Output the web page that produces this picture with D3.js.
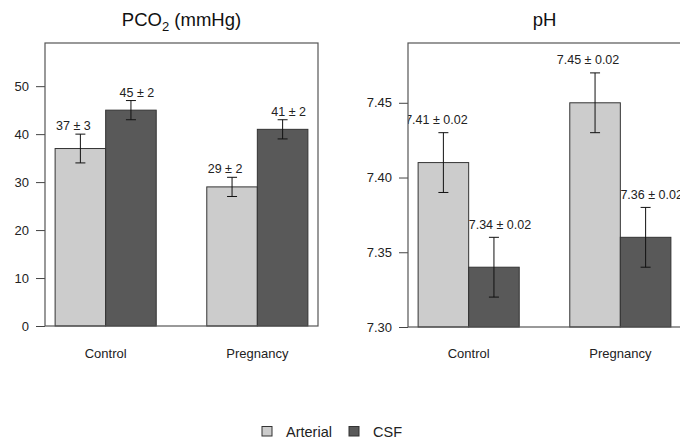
<!DOCTYPE html>
<html>
<head>
<meta charset="utf-8">
<script src="https://cdn.jsdelivr.net/npm/d3@7"></script>
<style>
  body { margin: 0; background: #fff; }
  svg { font-family: "Liberation Sans", Arial, sans-serif; }
</style>
</head>
<body>
<div id="chart"></div>
<script>
// data
const groups = ["Control", "Pregnancy"]
const series = ["Arterial", "CSF"]
const colors = ["#cccccc", "#595959"]

const pco2Mean = [[37, 45], [29, 41]]
const pco2Err = [[3, 2], [2, 2]]
const pco2Ticks = [0, 10, 20, 30, 40, 50]

const phMean = [[7.41, 7.34], [7.45, 7.36]]
const phErr = [[0.02, 0.02], [0.02, 0.02]]
const phTicks = [7.30, 7.35, 7.40, 7.45]

const svg = d3.select('#chart')
  .append('svg')
  .attr('width', 680)
  .attr('height', 441)

let panelId = 0

function panel(opt) {
  const g = svg.append('g')
  const clipId = 'clip' + (panelId++)

  svg.append('clipPath')
    .attr('id', clipId)
    .append('rect')
    .attr('x', opt.left)
    .attr('y', opt.top)
    .attr('width', opt.right - opt.left)
    .attr('height', opt.bottom - opt.top)

  // x in R barplot units: bars width 1, one unit of space before each group
  const x = d3.scaleLinear().domain([0.8, 6.2]).range([opt.left, opt.right])
  const y = d3.scaleLinear().domain(opt.yDomain).range([opt.bottom, opt.top])

  const bars = []
  groups.forEach((grp, i) => {
    series.forEach((s, j) => {
      bars.push({
        x0: 1 + i * 3 + j,
        v: opt.mean[i][j],
        e: opt.err[i][j],
        j: j,
        label: opt.fmt(opt.mean[i][j]) + ' \u00b1 ' + opt.fmt(opt.err[i][j])
      })
    })
  })

  // bars
  g.selectAll('rect.bar')
    .data(bars)
    .join('rect')
    .attr('class', 'bar')
    .attr('x', d => x(d.x0))
    .attr('width', d => x(d.x0 + 1) - x(d.x0))
    .attr('y', d => y(d.v))
    .attr('height', d => y(opt.yDomain[0]) - y(d.v))
    .attr('fill', d => colors[d.j])
    .attr('stroke', '#333')
    .attr('stroke-width', 1)

  // error bars
  const eb = g.selectAll('g.err').data(bars).join('g').attr('class', 'err')
    .attr('stroke', '#111').attr('stroke-width', 1)
  eb.append('line')
    .attr('x1', d => x(d.x0 + 0.5)).attr('x2', d => x(d.x0 + 0.5))
    .attr('y1', d => y(d.v - d.e)).attr('y2', d => y(d.v + d.e))
  eb.append('line')
    .attr('x1', d => x(d.x0 + 0.5) - 5).attr('x2', d => x(d.x0 + 0.5) + 5)
    .attr('y1', d => y(d.v + d.e)).attr('y2', d => y(d.v + d.e))
  eb.append('line')
    .attr('x1', d => x(d.x0 + 0.5) - 5).attr('x2', d => x(d.x0 + 0.5) + 5)
    .attr('y1', d => y(d.v - d.e)).attr('y2', d => y(d.v - d.e))

  // value labels, nudged apart a little and clipped to the plot region
  g.append('g')
    .attr('clip-path', 'url(#' + clipId + ')')
    .selectAll('text.val')
    .data(bars)
    .join('text')
    .attr('class', 'val')
    .attr('x', d => x(d.x0 + 0.5) + (d.j === 0 ? -7 : 6))
    .attr('y', d => y(d.v + d.e) - opt.labelGap)
    .attr('text-anchor', 'middle')
    .attr('font-size', 12.5)
    .attr('fill', '#222')
    .text(d => d.label)

  // y axis
  const yAxis = d3.axisLeft(y)
    .tickValues(opt.ticks)
    .tickFormat(opt.tickFmt)
    .tickSize(9)
    .tickPadding(7)
    .tickSizeOuter(0)
  const ya = g.append('g')
    .attr('transform', 'translate(' + opt.left + ',0)')
    .call(yAxis)
  ya.select('.domain').remove()
  ya.selectAll('line').attr('stroke', '#444')
  ya.selectAll('text')
    .attr('font-size', 13)
    .attr('font-family', '"Liberation Sans", Arial, sans-serif')
    .attr('fill', '#222')

  // box
  g.append('rect')
    .attr('x', opt.left)
    .attr('y', opt.top)
    .attr('width', opt.right - opt.left)
    .attr('height', opt.bottom - opt.top)
    .attr('fill', 'none')
    .attr('stroke', '#555')
    .attr('stroke-width', 1.2)

  // category labels
  g.selectAll('text.cat')
    .data(groups)
    .join('text')
    .attr('class', 'cat')
    .attr('x', (d, i) => x(2 + i * 3))
    .attr('y', 358)
    .attr('text-anchor', 'middle')
    .attr('font-size', 13)
    .attr('fill', '#222')
    .text(d => d)

  // title
  const t = g.append('text')
    .attr('x', (opt.left + opt.right) / 2)
    .attr('y', 26)
    .attr('text-anchor', 'middle')
    .attr('font-size', 18.5)
    .attr('fill', '#111')
  opt.title(t)
}

panel({
  left: 45, right: 318, top: 43, bottom: 326,
  yDomain: [0, 59],
  mean: pco2Mean, err: pco2Err, ticks: pco2Ticks,
  tickFmt: d3.format('d'),
  fmt: d3.format('d'),
  labelGap: 4,
  title: t => {
    t.append('tspan').text('PCO')
    t.append('tspan').attr('font-size', 13).attr('dy', 5).text('2')
    t.append('tspan').attr('dy', -5).text(' (mmHg)')
  }
})

panel({
  left: 408, right: 681, top: 43, bottom: 327,
  yDomain: [7.30, 7.49],
  mean: phMean, err: phErr, ticks: phTicks,
  tickFmt: d3.format('.2f'),
  fmt: d3.format('.2f'),
  labelGap: 8.5,
  title: t => t.text('pH')
})

// legend
const legend = svg.append('g')
const legX = [262, 349]
legend.selectAll('rect')
  .data(series)
  .join('rect')
  .attr('x', (d, i) => legX[i])
  .attr('y', 426.5)
  .attr('width', 10)
  .attr('height', 9.5)
  .attr('fill', (d, i) => colors[i])
  .attr('stroke', '#333')
legend.selectAll('text')
  .data(series)
  .join('text')
  .attr('x', (d, i) => legX[i] + 24)
  .attr('y', 437)
  .attr('font-size', 14.5)
  .attr('fill', '#222')
  .text(d => d)
</script>
</body>
</html>
